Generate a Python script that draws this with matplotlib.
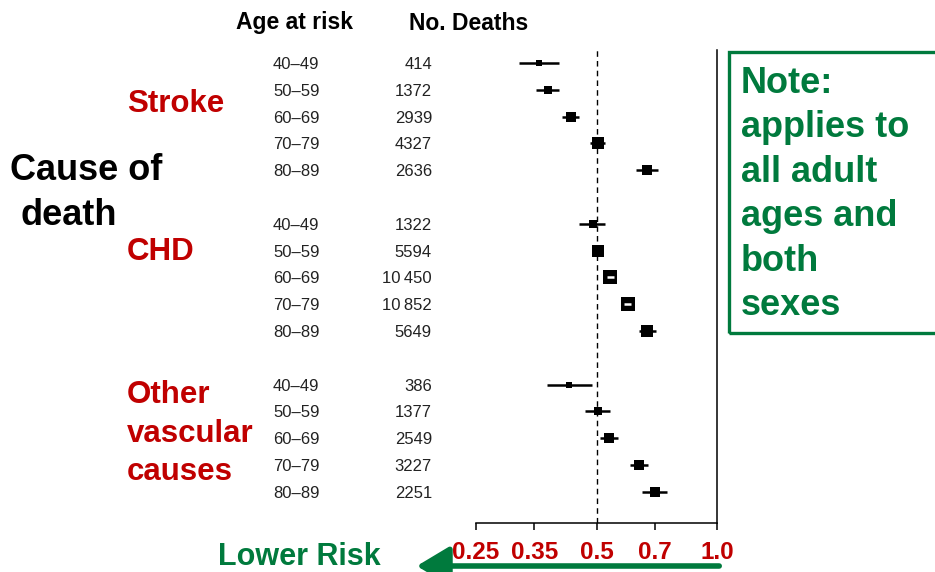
import matplotlib
matplotlib.use("Agg")
import matplotlib.pyplot as plt
from matplotlib.patches import Rectangle, FancyArrowPatch
from matplotlib.transforms import blended_transform_factory
import numpy as np

plt.rcParams['font.family'] = ['Liberation Sans', 'DejaVu Sans']

# data
causes = ["Stroke", "CHD", "Other vascular causes"]
age_groups = ["40–49", "50–59", "60–69", "70–79", "80–89"]
deaths = [
    [414, 1372, 2939, 4327, 2636],
    [1322, 5594, 10450, 10852, 5649],
    [386, 1377, 2549, 3227, 2251],
]
ratio = [
    [0.359, 0.378, 0.432, 0.503, 0.668],
    [0.489, 0.504, 0.541, 0.598, 0.668],
    [0.428, 0.504, 0.536, 0.639, 0.700],
]
ci_low = [
    [0.320, 0.353, 0.411, 0.482, 0.627],
    [0.451, 0.488, 0.530, 0.586, 0.639],
    [0.377, 0.467, 0.511, 0.605, 0.650],
]
ci_high = [
    [0.403, 0.403, 0.452, 0.526, 0.713],
    [0.526, 0.520, 0.553, 0.611, 0.703],
    [0.487, 0.539, 0.566, 0.672, 0.748],
]
ticks = [0.25, 0.35, 0.5, 0.7, 1.0]
tick_labels = ["0.25", "0.35", "0.5", "0.7", "1.0"]

RED = "#C00000"
GREEN = "#007A3D"
W, H = 935, 572

fig = plt.figure(figsize=(W / 100, H / 100), dpi=100)
ax = fig.add_axes([476 / W, 1 - 523 / H, 241 / W, (523 - 50) / H])

def px(x, y):
    # pixel position -> figure fraction
    return x / W, 1 - y / H

ax.set_xscale('log')
ax.set_xlim(0.25, 1.0)
ax.set_ylim(17.16, -0.485)

ax.spines['left'].set_visible(False)
ax.spines['top'].set_visible(False)
ax.spines['right'].set_linewidth(1.1)
ax.spines['bottom'].set_linewidth(1.1)
ax.set_yticks([])
ax.set_xticks(ticks)
ax.set_xticklabels(tick_labels)
ax.xaxis.set_minor_locator(matplotlib.ticker.NullLocator())
ax.tick_params(axis='x', direction='out', length=5, width=1.1, pad=8,
               labelsize=17.5, labelcolor=RED)
for lab in ax.get_xticklabels():
    lab.set_fontweight('bold')

ax.axvline(0.5, color='black', lw=1.0, ls=(0, (4, 3)), zorder=1)

trans = blended_transform_factory(fig.transFigure, ax.transData)

rows = []
for g in range(len(causes)):
    for i in range(len(age_groups)):
        rows.append((g, i, g * 6 + i))

fig.canvas.draw()
for g, i, y in rows:
    r = ratio[g][i]
    lo, hi = ci_low[g][i], ci_high[g][i]
    box_px = 1.6 * deaths[g][i] ** 0.237
    ax.plot([lo, hi], [y, y], color='black', lw=1.8, zorder=2, solid_capstyle='butt')
    ax.plot([r], [y], marker='s', ms=box_px * 0.72, color='black', mec='black',
            mew=0, ls='none', zorder=3)
    # when the CI is inside the box, it shows as a white line
    x0 = ax.transData.transform((lo, y))[0]
    x1 = ax.transData.transform((hi, y))[0]
    xc = ax.transData.transform((r, y))[0]
    if x0 > xc - box_px / 2 + 1 and x1 < xc + box_px / 2 - 1:
        ax.plot([lo, hi], [y, y], color='white', lw=1.8, zorder=4, solid_capstyle='butt')

    fig.text(273 / W, y, age_groups[i], transform=trans, fontsize=12,
             color='#222222', ha='left', va='center_baseline')
    d = deaths[g][i]
    dtxt = f"{d // 1000}\u2009{d % 1000:03d}" if d >= 10000 else str(d)
    fig.text(432 / W, y, dtxt, transform=trans, fontsize=12,
             color='#222222', ha='right', va='center_baseline')

# column headers
fig.text(*px(294, 23), "Age at risk", fontsize=16.5, fontweight='bold',
         ha='center', va='center')
fig.text(*px(469, 23), "No. Deaths", fontsize=16.5, fontweight='bold',
         ha='center', va='center')

# cause labels
group_lines = [["Stroke"], ["CHD"], ["Other", "vascular", "causes"]]
group_baselines = [[112], [260], [403, 442, 480]]
for lines, bases in zip(group_lines, group_baselines):
    for t, b in zip(lines, bases):
        fig.text(*px(127, b), t, fontsize=22.5, fontweight='bold', color=RED,
                 ha='left', va='baseline')

fig.text(*px(10, 180), "Cause of", fontsize=26, fontweight='bold',
         ha='left', va='baseline')
fig.text(*px(20, 225), "death", fontsize=26, fontweight='bold',
         ha='left', va='baseline')

# note box
note_lines = ["Note:", "applies to", "all adult", "ages and", "both", "sexes"]
fig.patches.append(Rectangle(px(729, 333), 230 / W, (333 - 52) / H,
                             transform=fig.transFigure, fill=False,
                             edgecolor=GREEN, lw=2.4))
for k, t in enumerate(note_lines):
    fig.text(*px(741, 93 + 44.4 * k), t, fontsize=26, fontweight='bold',
             color=GREEN, ha='left', va='baseline')

# lower risk arrow
fig.text(*px(218, 565), "Lower Risk", fontsize=22, fontweight='bold',
         color=GREEN, ha='left', va='baseline')
arrow = FancyArrowPatch(px(722, 566), px(414, 566), transform=fig.transFigure,
                        arrowstyle='-|>,head_length=1.0,head_width=0.6',
                        mutation_scale=20, lw=4, color=GREEN)
fig.patches.append(arrow)

fig.savefig("out.png", dpi=100)
